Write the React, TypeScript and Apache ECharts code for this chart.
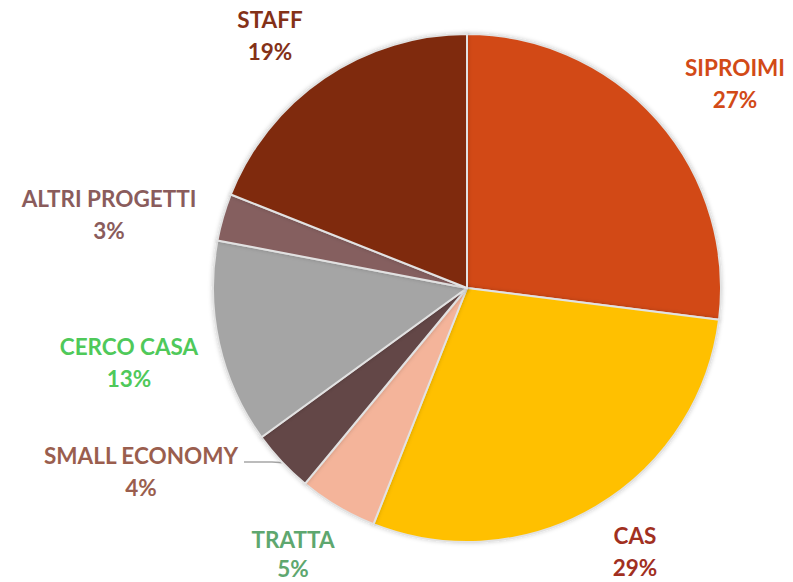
import React, { useEffect, useRef } from "react";
import * as echarts from "echarts";

const categories = ["SIPROIMI", "CAS", "TRATTA", "SMALL ECONOMY", "CERCO CASA", "ALTRI PROGETTI", "STAFF"];
const values = [27, 29, 5, 4, 13, 3, 19];
const sliceColors = ["#D24A17", "#FFC000", "#F4B49A", "#634646", "#A5A5A5", "#855E5E", "#7F2B0E"];
const labelColors = ["#D24A17", "#A1301F", "#5EA76F", "#9A5E4E", "#4FC95A", "#8A5C5C", "#843117"];
// label block centers (layout only)
const labelPos: [number, number][] = [
  [735, 83],
  [635, 551],
  [293, 554],
  [141, 471],
  [129, 362],
  [109, 214],
  [270, 35],
];

export default function App() {
  const ref = useRef<HTMLDivElement>(null);
  useEffect(() => {
    if (!ref.current) return;
    const chart = echarts.init(ref.current, undefined, { renderer: "svg" });
    chart.setOption({
      animation: false,
      backgroundColor: "#ffffff",
      series: [
        {
          type: "pie",
          center: [467, 288],
          radius: [0, 254],
          startAngle: 90,
          clockwise: true,
          percentPrecision: 0,
          itemStyle: {
            borderColor: "#E2E2E2",
            borderWidth: 2,
            shadowBlur: 4,
            shadowColor: "rgba(0,0,0,0.2)",
          },
          label: {
            show: true,
            position: "outside",
            formatter: "{b}\n{d}%",
            fontFamily: "Lato, 'Open Sans', sans-serif",
            fontWeight: "bold",
            fontSize: 22.5,
            lineHeight: 32,
            align: "center",
            overflow: "none",
            width: 300,
          },
          labelLine: { show: false },
          labelLayout: (params: any) => {
            const i = params.dataIndex;
            const res: any = {
              x: labelPos[i][0],
              y: labelPos[i][1],
              align: "center",
              verticalAlign: "middle",
            };
            if (i === 3) {
              res.labelLinePoints = [
                [244, 462],
                [272, 462],
                [302, 464],
              ];
            }
            return res;
          },
          data: categories.map((name, i) => ({
            name,
            value: values[i],
            itemStyle: { color: sliceColors[i] },
            label: i === 2 ? { color: labelColors[i], lineHeight: 29 } : { color: labelColors[i] },
            labelLine:
              i === 3
                ? { show: true, lineStyle: { color: "#A6A6A6", width: 1.5 } }
                : { show: false },
          })),
        },
      ],
    });
    return () => chart.dispose();
  }, []);
  return (
    <div
      ref={ref}
      style={{ position: "fixed", left: 0, top: 0, width: 793, height: 582 }}
    />
  );
}
